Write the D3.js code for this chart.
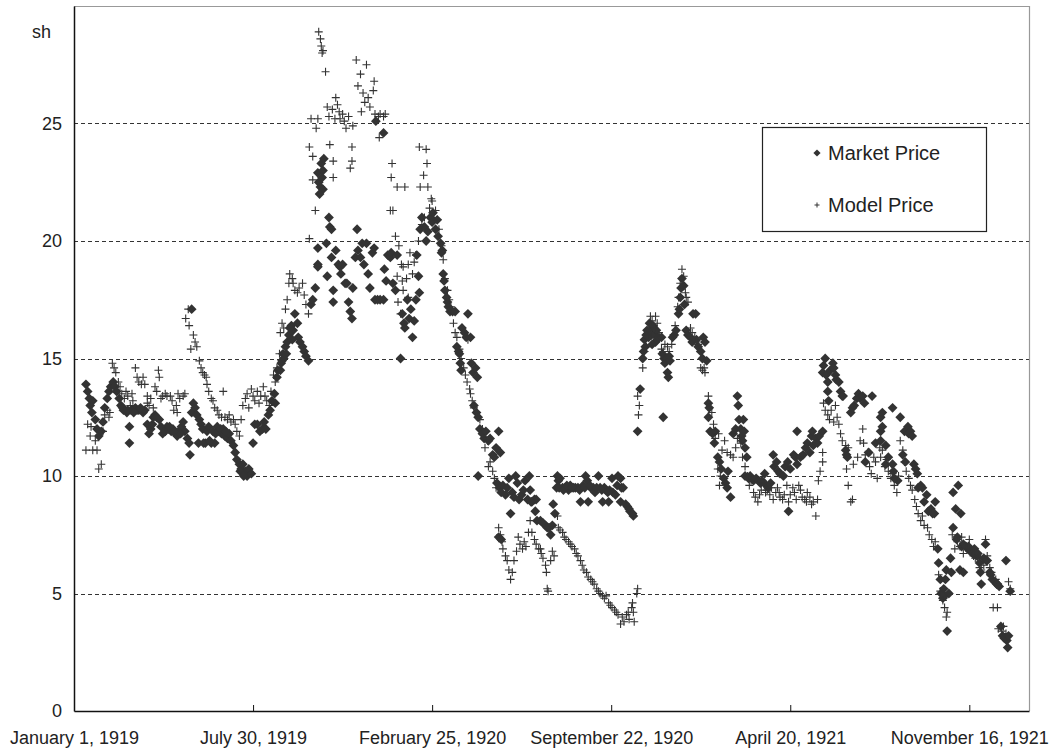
<!DOCTYPE html>
<html>
<head>
  <meta charset="utf-8">
  <title>Market Price and Model Price</title>
  <script src="https://d3js.org/d3.v7.min.js"></script>
  <style>
    body { margin: 0; background: #fff; }
    text { font-family: "Liberation Sans", Arial, sans-serif; fill: #222; }
  </style>
</head>
<body>

  <svg></svg>

  <script>

    // x axis ticks, 30 weeks apart
    var tickDates = ["1919-01-01", "1919-07-30", "1920-02-25", "1920-09-22", "1921-04-20", "1921-11-16"];
    var yTicks = [0, 5, 10, 15, 20, 25];
    var seriesNames = ["Market Price", "Model Price"];

    // [days after 1 January 1919, price in shillings]
    var marketPrice = [
      [14,13.9],[16,13.6],[18,13.3],[19,13.0],[21,12.7],[22,13.2],[25,12.4],[27,12.0],[29,11.7],[32,11.9],
      [34,12.3],[36,12.9],[39,13.3],[41,13.6],[43,13.8],[46,14.0],[48,13.8],[50,13.6],[53,13.3],[55,13.0],
      [58,12.8],[60,12.8],[62,12.7],[65,12.1],[65,11.4],[67,12.8],[69,12.8],[72,12.9],[74,12.8],[76,12.8],
      [79,12.8],[81,12.7],[83,12.8],[86,12.2],[88,11.8],[90,12.0],[93,12.5],[95,12.6],[97,12.5],[100,12.4],
      [102,12.1],[104,11.8],[107,11.9],[109,12.1],[111,12.0],[114,11.9],[116,12.0],[119,11.8],[121,11.7],[123,11.9],
      [126,12.1],[128,12.3],[130,11.9],[133,11.6],[135,11.4],[136,10.9],[138,12.7],[138,17.1],[140,13.1],[142,12.9],
      [144,12.6],[147,12.4],[149,12.2],[151,12.0],[154,11.4],[156,11.9],[158,12.1],[161,11.4],[163,11.9],[165,11.4],
      [168,12.1],[170,11.9],[173,11.8],[175,12.0],[177,11.7],[180,11.6],[182,11.8],[184,11.5],[187,11.3],[189,11.0],
      [191,10.7],[194,10.5],[196,10.3],[198,10.5],[201,10.2],[203,10.0],[205,10.3],[208,10.1],[210,11.4],[212,12.2],
      [215,12.2],[218,11.9],[221,12.0],[223,12.3],[225,12.0],[228,12.6],[230,12.8],[232,13.2],[235,13.5],[236,13.1],
      [238,14.2],[239,14.5],[242,14.5],[243,14.8],[244,14.9],[245,15.2],[246,15.0],[248,15.5],[249,15.2],[250,15.7],
      [252,16.0],[255,16.4],[257,16.2],[259,16.9],[262,16.5],[263,15.9],[265,15.7],[268,15.5],[270,15.3],[272,15.1],
      [275,14.9],[278,17.3],[280,17.5],[283,18.0],[286,19.0],[286,22.9],[287,22.5],[289,22.3],[290,23.3],[291,22.7],
      [292,22.2],[293,23.5],[286,19.7],[286,18.9],[296,19.9],[297,18.5],[299,21.0],[300,20.6],[302,20.5],[304,17.9],
      [304,17.4],[307,19.6],[302,19.3],[310,19.0],[312,18.9],[313,18.6],[315,19.0],[318,18.2],[320,18.2],[322,17.4],
      [324,17.0],[326,16.7],[327,18.0],[330,19.3],[332,20.5],[333,19.6],[336,19.3],[338,19.9],[340,19.0],[343,19.9],
      [345,18.6],[347,18.0],[350,19.5],[352,19.7],[353,17.5],[354,25.1],[356,17.5],[359,17.5],[363,17.5],[363,24.6],
      [364,18.8],[366,18.3],[368,19.4],[371,19.3],[372,19.5],[374,18.2],[377,17.9],[379,19.4],[383,15.0],[385,16.9],
      [387,16.5],[388,16.3],[391,17.5],[393,16.7],[395,17.1],[397,15.9],[399,16.6],[401,17.5],[402,19.4],[404,18.5],
      [405,17.8],[406,20.5],[408,21.0],[411,20.6],[413,20.0],[415,20.4],[418,21.0],[420,20.8],[421,21.2],[424,20.5],
      [426,20.9],[427,20.2],[430,19.9],[431,19.5],[432,19.6],[433,18.6],[434,18.3],[435,17.9],[437,17.6],[438,17.4],
      [439,17.2],[441,17.0],[444,17.0],[447,17.0],[449,15.5],[451,15.3],[452,15.2],[453,14.8],[454,14.5],[455,16.3],
      [458,16.1],[460,15.9],[462,16.9],[465,15.9],[466,14.8],[468,14.4],[471,14.6],[473,14.2],[469,13.0],[472,12.7],
      [474,12.5],[476,12.0],[479,11.8],[481,11.6],[483,11.9],[486,11.5],[488,11.6],[491,10.9],[493,10.8],[495,11.2],
      [498,11.9],[500,11.0],[474,10.0],[496,9.7],[499,9.5],[501,9.3],[503,9.6],[506,9.2],[508,9.5],[510,9.9],
      [512,8.4],[514,9.3],[516,9.1],[518,10.0],[520,9.7],[522,9.0],[525,9.2],[527,9.4],[529,9.8],[532,9.0],
      [534,10.0],[535,9.4],[537,8.9],[540,9.0],[542,9.0],[498,7.4],[501,7.3],[536,8.9],[541,8.5],[543,8.1],
      [547,8.1],[550,8.0],[553,7.9],[555,7.8],[557,7.8],[559,7.5],[561,7.9],[562,8.8],[564,8.4],[567,10.0],
      [568,9.8],[570,9.9],[566,9.5],[573,9.5],[576,9.5],[580,9.4],[582,9.6],[586,9.5],[588,9.5],[591,9.5],
      [594,8.9],[597,9.6],[600,10.0],[602,9.8],[603,8.9],[606,9.5],[609,9.5],[611,9.3],[615,10.0],[617,9.5],
      [620,8.9],[622,9.5],[624,9.4],[627,8.9],[628,9.4],[631,9.9],[632,9.3],[635,9.2],[637,9.6],[638,10.0],
      [641,8.9],[641,9.9],[642,9.5],[644,9.5],[647,8.8],[649,8.7],[651,8.6],[652,8.5],[655,8.4],[656,8.3],
      [661,11.9],[664,13.7],[667,15.0],[668,15.3],[669,15.8],[670,15.5],[671,16.0],[672,16.2],[674,15.9],[675,16.5],
      [676,16.2],[677,16.0],[678,15.6],[679,16.4],[681,16.0],[682,15.7],[683,16.2],[684,15.8],[686,15.9],[689,15.9],
      [690,15.2],[691,12.5],[692,15.0],[693,14.8],[695,15.0],[696,14.4],[697,14.2],[698,15.1],[699,14.9],[702,15.9],
      [704,16.0],[706,16.2],[709,16.9],[710,17.1],[711,17.6],[712,18.0],[713,18.4],[715,18.1],[716,17.3],[718,16.2],
      [720,16.0],[723,15.9],[725,15.7],[726,16.9],[729,16.9],[730,15.8],[732,15.5],[735,15.3],[737,15.0],[738,15.9],
      [740,15.7],[742,14.9],[744,13.1],[745,12.9],[744,12.5],[746,11.9],[749,11.8],[751,11.4],[752,11.9],[755,10.8],
      [757,10.6],[759,10.3],[762,9.9],[764,9.7],[766,9.5],[767,10.2],[770,9.1],[773,11.8],[776,12.0],[778,13.4],
      [779,13.0],[780,12.4],[782,12.0],[783,11.7],[784,11.5],[785,12.4],[786,11.9],[787,11.2],[789,10.8],[787,10.0],
      [791,9.9],[793,10.0],[797,9.8],[800,9.9],[803,9.8],[805,9.7],[807,9.8],[810,10.1],[812,9.6],[814,9.5],
      [817,9.7],[820,10.9],[821,10.4],[824,10.6],[826,10.2],[828,10.1],[832,10.0],[834,10.4],[837,10.6],[838,8.5],
      [840,10.3],[844,10.9],[846,10.8],[848,10.5],[848,11.9],[852,10.8],[855,10.9],[858,11.2],[860,11.4],[863,11.0],
      [865,11.7],[866,11.9],[867,11.3],[870,11.6],[872,11.4],[874,11.7],[878,11.9],[878,14.4],[879,14.7],[881,15.0],
      [882,14.3],[884,14.0],[884,13.6],[885,13.2],[887,14.5],[890,14.8],[891,14.6],[893,14.3],[894,14.1],[897,14.0],
      [899,13.6],[901,13.4],[902,13.4],[905,11.1],[906,10.9],[907,10.8],[911,12.7],[913,12.9],[915,13.0],[918,13.3],
      [920,13.5],[922,13.3],[925,13.4],[927,13.1],[928,10.6],[932,11.0],[936,13.4],[940,11.4],[946,11.5],[946,12.5],
      [946,11.9],[952,11.3],[952,10.5],[955,10.8],[960,12.9],[960,10.5],[961,10.2],[966,9.8],[948,12.7],[948,12.1],
      [962,9.9],[969,12.5],[972,10.9],[974,11.9],[975,10.6],[978,12.1],[979,11.8],[981,11.9],[983,11.7],[985,10.5],
      [987,10.3],[989,10.1],[990,9.5],[993,9.6],[995,9.5],[997,8.9],[1000,9.2],[1002,8.5],[1005,8.6],[1007,8.4],
      [1009,8.4],[1010,8.9],[1013,6.9],[1014,6.3],[1016,5.6],[1017,5.0],[1019,4.8],[1020,5.2],[1021,4.9],[1022,5.6],
      [1023,6.0],[1024,3.4],[1026,5.0],[1028,6.5],[1029,5.9],[1031,9.3],[1031,7.8],[1034,8.6],[1035,7.3],[1036,7.4],
      [1037,9.6],[1039,6.0],[1040,8.4],[1041,7.0],[1043,7.1],[1043,5.9],[1046,7.0],[1048,6.9],[1049,7.0],[1051,6.8],
      [1054,6.7],[1056,6.9],[1059,6.6],[1060,6.7],[1062,6.3],[1063,5.9],[1064,5.4],[1067,6.5],[1069,7.1],[1070,6.4],
      [1071,6.4],[1074,5.9],[1075,5.8],[1077,5.6],[1080,5.5],[1082,5.4],[1083,5.4],[1085,5.3],[1087,3.6],[1089,3.2],
      [1091,3.1],[1093,6.4],[1094,3.0],[1095,2.7],[1096,3.2],[1098,5.1],
      [57,12.9],[63,12.8],[70,12.7],[78,12.9],[92,12.2],[112,12.1],[117,11.9],[125,11.8],[146,11.4],[152,11.4],
      [159,11.5],[166,11.8],[172,12.0],[178,11.9],[195,10.2],[199,10.0],[253,16.3],[256,15.8],[288,22.0],[292,23.0],
      [569,9.5],[574,9.4],[578,9.6],[584,9.5],[593,9.4],[599,9.5],[605,9.6],[613,9.5],[619,9.4],[626,9.3]
    ];

    var modelPrice = [
      [14,11.1],[16,12.2],[19,11.7],[20,12.1],[22,11.1],[25,11.5],[27,11.1],[29,10.3],[32,10.5],[34,11.9],
      [36,12.6],[39,12.8],[41,12.5],[42,12.7],[45,14.8],[47,14.6],[49,14.4],[52,14.0],[54,13.8],[56,13.5],
      [59,13.3],[61,13.6],[63,13.4],[66,13.0],[68,13.5],[69,13.2],[72,14.6],[74,14.2],[76,14.0],[79,13.9],
      [81,14.2],[83,13.9],[86,13.4],[86,13.1],[88,13.0],[90,13.3],[93,12.9],[95,13.8],[97,13.6],[99,14.5],
      [100,14.2],[102,13.3],[104,13.4],[107,13.5],[109,13.4],[113,13.4],[115,13.2],[117,12.8],[120,13.0],[121,12.7],
      [122,13.5],[124,13.3],[128,13.4],[130,13.5],[131,16.7],[134,17.1],[135,16.4],[137,15.4],[140,16.0],[142,15.7],
      [144,15.5],[147,14.9],[149,14.6],[151,14.4],[153,14.3],[155,14.2],[156,13.9],[158,13.6],[161,13.3],[163,13.2],
      [165,12.9],[168,12.8],[170,12.6],[173,12.5],[175,13.6],[177,12.5],[180,12.4],[182,12.6],[184,12.3],[187,12.4],
      [189,12.2],[191,11.9],[194,11.7],[196,12.4],[198,13.0],[201,13.3],[203,13.5],[205,12.9],[208,13.7],[210,13.4],
      [212,13.2],[215,13.6],[217,13.1],[219,13.4],[222,13.8],[224,13.4],[226,13.2],[229,13.0],[231,13.6],[234,14.3],
      [236,14.0],[238,14.6],[241,15.2],[242,16.1],[244,16.5],[246,16.3],[248,17.1],[250,17.5],[252,18.2],[253,18.6],
      [256,18.4],[257,18.2],[259,17.9],[262,17.8],[264,18.0],[268,18.2],[270,17.7],[272,17.3],[275,16.9],[276,20.1],
      [276,24.0],[278,25.2],[280,22.6],[280,23.6],[283,21.3],[284,24.8],[286,25.2],[287,28.9],[289,28.6],[290,28.3],
      [291,28.0],[292,28.1],[295,27.2],[297,25.7],[299,25.3],[300,24.1],[303,25.6],[304,23.4],[304,22.7],[306,25.2],
      [307,26.1],[309,25.8],[311,25.5],[312,25.2],[315,25.4],[317,25.1],[319,24.8],[322,25.3],[324,23.1],[326,24.0],
      [326,23.4],[327,24.9],[331,27.7],[333,26.6],[336,27.1],[337,25.5],[339,26.3],[341,25.9],[343,27.5],[345,26.1],
      [347,25.7],[351,26.4],[352,26.8],[353,25.4],[357,25.3],[358,24.4],[359,25.4],[363,25.3],[365,25.4],[371,21.3],
      [372,22.7],[373,23.3],[374,21.3],[377,20.2],[379,22.3],[381,19.8],[384,19.0],[386,18.9],[388,22.3],[390,18.4],
      [392,17.6],[394,19.5],[397,18.6],[399,19.1],[401,19.4],[404,20.0],[405,24.0],[406,22.3],[408,20.7],[410,22.8],
      [411,21.0],[413,23.9],[414,23.3],[415,22.3],[417,21.4],[419,21.8],[420,21.7],[422,21.0],[424,21.3],[426,20.9],
      [428,20.5],[431,19.8],[433,19.2],[379,18.5],[385,18.3],[386,17.9],[380,17.4],[383,16.9],[392,19.0],[435,18.4],
      [438,17.9],[440,17.5],[442,17.2],[445,16.5],[447,16.1],[449,15.9],[452,15.4],[454,15.0],[457,14.6],[459,14.3],
      [461,14.0],[462,15.8],[464,13.7],[465,13.5],[467,13.2],[469,12.9],[472,12.7],[474,12.5],[476,12.4],[479,12.0],
      [481,11.6],[482,11.2],[485,11.5],[486,10.4],[488,10.6],[491,10.2],[493,9.9],[495,9.5],[498,7.8],[500,7.5],
      [502,7.2],[503,6.9],[506,6.6],[508,6.4],[510,6.0],[512,5.6],[514,5.9],[516,6.4],[519,6.8],[521,7.4],
      [523,7.1],[526,6.9],[528,7.2],[530,7.0],[533,7.6],[535,8.1],[537,7.6],[540,7.3],[542,7.1],[545,6.9],
      [547,6.9],[548,6.7],[550,6.5],[553,6.2],[554,5.9],[555,5.2],[556,5.1],[559,6.4],[561,6.8],[563,6.6],
      [567,8.3],[568,7.8],[570,7.7],[573,7.6],[575,7.4],[577,7.3],[580,7.2],[582,7.1],[584,7.0],[587,6.9],
      [589,6.7],[591,6.6],[594,6.4],[596,6.2],[598,6.0],[601,5.9],[603,5.7],[606,5.6],[608,5.5],[610,5.4],
      [613,5.2],[615,5.1],[617,5.0],[620,4.9],[622,4.8],[624,4.9],[627,4.6],[629,4.5],[631,4.4],[634,4.3],
      [636,4.2],[638,4.1],[641,3.7],[643,4.0],[645,3.8],[648,4.1],[650,4.2],[651,3.9],[654,4.4],[655,4.6],
      [656,4.2],[657,3.8],[660,5.0],[661,5.2],[661,13.4],[662,12.6],[663,13.0],[667,14.6],[669,15.3],[671,15.5],
      [674,16.0],[676,16.8],[678,16.6],[681,16.3],[682,16.8],[684,16.5],[686,16.1],[689,15.4],[691,15.3],[693,15.6],
      [696,15.5],[698,15.3],[701,15.6],[703,16.0],[705,16.4],[708,17.2],[709,17.6],[711,18.2],[713,18.8],[715,18.5],
      [717,17.8],[718,17.6],[720,17.4],[723,16.3],[725,16.1],[728,15.9],[730,15.7],[732,15.6],[735,14.6],[737,14.5],
      [739,14.6],[740,14.4],[744,13.4],[748,12.7],[750,12.2],[752,11.6],[755,10.3],[756,11.8],[757,9.6],[758,10.0],
      [760,11.1],[763,11.5],[766,11.0],[770,10.9],[773,10.8],[776,11.2],[778,11.6],[782,11.4],[784,10.8],[787,10.4],
      [790,10.0],[792,9.6],[794,9.8],[797,9.3],[799,9.1],[802,8.9],[804,9.2],[806,9.4],[809,9.7],[811,9.3],
      [813,9.4],[816,9.2],[818,9.5],[820,9.0],[823,9.3],[825,9.5],[827,9.3],[828,9.1],[831,9.0],[833,9.2],
      [836,9.6],[838,8.9],[840,9.2],[843,9.5],[845,9.3],[847,9.0],[850,9.6],[852,9.4],[854,9.1],[857,9.0],
      [859,8.9],[860,9.3],[863,9.1],[865,8.8],[867,8.9],[870,8.3],[872,9.0],[873,9.8],[875,10.2],[878,10.6],
      [878,11.0],[879,13.1],[881,12.8],[884,12.6],[886,12.4],[888,12.8],[891,12.3],[893,13.0],[895,12.5],[897,12.2],
      [899,11.8],[901,11.5],[905,11.3],[906,10.3],[908,9.6],[908,11.2],[911,8.9],[913,9.0],[914,10.5],[919,10.8],
      [922,11.5],[925,12.0],[926,11.4],[928,10.9],[931,11.0],[933,10.4],[935,10.1],[938,10.8],[940,10.6],[942,9.9],
      [945,11.2],[946,10.8],[948,11.1],[951,10.4],[953,10.7],[955,10.2],[958,9.9],[960,10.1],[962,9.6],[965,9.3],
      [967,10.0],[969,11.5],[972,11.1],[974,10.6],[976,10.2],[979,9.9],[981,9.6],[983,9.4],[986,9.0],[988,8.7],
      [990,8.4],[993,8.1],[995,8.3],[997,7.9],[1001,7.8],[1003,7.5],[1006,7.3],[1008,7.0],[1010,7.2],[1014,5.8],
      [1016,5.1],[1019,4.7],[1021,4.4],[1023,4.0],[1024,4.2],[1028,5.9],[1030,7.5],[1033,6.9],[1036,7.2],[1039,7.0],
      [1041,7.4],[1043,6.7],[1046,7.0],[1048,6.9],[1050,7.3],[1053,6.8],[1055,6.6],[1057,6.5],[1060,6.5],[1062,6.1],
      [1064,6.0],[1067,6.2],[1069,7.3],[1071,6.6],[1074,6.1],[1076,5.9],[1078,4.4],[1081,5.6],[1083,4.4],[1084,3.5],
      [1088,3.4],[1090,3.6],[1093,3.3],[1096,5.5],[1098,5.2]
    ];

    var width = 1053, height = 753;
    var plot = {left: 74, top: 6, right: 1029, bottom: 711};
    var ink = "#333";

    var parseDate = d3.utcParse("%Y-%m-%d");
    var start = parseDate(tickDates[0]);
    var dayToDate = function(d) { return d3.utcDay.offset(start, d); };

    var x = d3.scaleUtc()
        .domain([start, dayToDate(1120)])
        .range([plot.left, plot.right]);
    var y = d3.scaleLinear()
        .domain([0, 30])
        .range([plot.bottom, plot.top]);

    var svg = d3.select("svg")
        .attr("width", width)
        .attr("height", height);

    // frame: light top and right edges
    svg.append("path")
        .attr("d", "M" + plot.left + "," + (plot.top + 0.5) + "H" + (plot.right + 0.5) + "V" + plot.bottom)
        .attr("fill", "none")
        .attr("stroke", "#999")
        .attr("stroke-width", 1.2);

    // dashed gridlines
    svg.append("g")
      .selectAll("line")
      .data(yTicks.filter(function(v) { return v > 0; }))
      .join("line")
        .attr("x1", plot.left)
        .attr("x2", plot.right)
        .attr("y1", function(d) { return Math.round(y(d)) + 0.5; })
        .attr("y2", function(d) { return Math.round(y(d)) + 0.5; })
        .attr("stroke", ink)
        .attr("stroke-dasharray", "4,3");

    // x axis, ticks pointing up into the plot
    var xAxis = svg.append("g")
        .attr("transform", "translate(0," + plot.bottom + ")")
        .call(d3.axisBottom(x)
          .tickValues(tickDates.map(parseDate))
          .tickFormat(d3.utcFormat("%B %-d, %Y"))
          .tickSizeInner(-6)
          .tickSizeOuter(0)
          .tickPadding(20));
    xAxis.select(".domain").attr("stroke", "#111").attr("stroke-width", 1.5);
    xAxis.selectAll(".tick line").attr("stroke", "#111");
    xAxis.selectAll("text").style("font-size", "18px").attr("fill", "#222");

    // y axis
    var yAxis = svg.append("g")
        .attr("transform", "translate(" + plot.left + ",0)")
        .call(d3.axisLeft(y)
          .tickValues(yTicks)
          .tickSize(0)
          .tickPadding(12));
    yAxis.select(".domain").attr("stroke", "#111").attr("stroke-width", 1.5);
    yAxis.selectAll("text").style("font-size", "18px").attr("fill", "#222");

    // unit label
    svg.append("text")
        .attr("x", 32)
        .attr("y", 38)
        .style("font-size", "18px")
        .text("sh");

    var diamond = d3.symbol().type(d3.symbolSquare).size(48);
    var plus = "M-4,0H4M0,-4V4";

    // Market Price: filled diamonds
    svg.append("g")
      .selectAll("path")
      .data(marketPrice)
      .join("path")
        .attr("d", diamond)
        .attr("transform", function(d) {
          return "translate(" + x(dayToDate(d[0])) + "," + y(d[1]) + ") rotate(45)";
        })
        .attr("fill", ink);

    // Model Price: thin crosses
    svg.append("g")
      .selectAll("path")
      .data(modelPrice)
      .join("path")
        .attr("d", plus)
        .attr("transform", function(d) {
          return "translate(" + x(dayToDate(d[0])) + "," + y(d[1]) + ")";
        })
        .attr("fill", "none")
        .attr("stroke", ink)
        .attr("stroke-width", 1.1);

    // legend
    var legend = svg.append("g");
    legend.append("rect")
        .attr("x", 762.5)
        .attr("y", 127.5)
        .attr("width", 224)
        .attr("height", 104)
        .attr("fill", "#fff")
        .attr("stroke", "#222")
        .attr("stroke-width", 1.2);

    legend.append("path")
        .attr("d", d3.symbol().type(d3.symbolSquare).size(26))
        .attr("transform", "translate(817,153) rotate(45)")
        .attr("fill", ink);
    legend.append("path")
        .attr("d", "M-2.5,0H2.5M0,-2.5V2.5")
        .attr("transform", "translate(817,205)")
        .attr("stroke", ink);

    legend.selectAll("text")
      .data(seriesNames)
      .join("text")
        .attr("x", 828)
        .attr("y", function(d, i) { return i === 0 ? 160 : 212; })
        .style("font-size", "20px")
        .text(function(d) { return d; });

  </script>

</body>
</html>
